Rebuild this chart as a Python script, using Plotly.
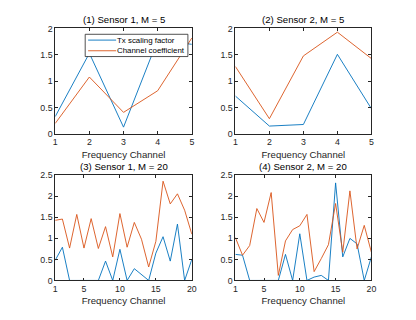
import plotly.graph_objs as go
from plotly.subplots import make_subplots

# channels
ch5 = [1, 2, 3, 4, 5]
ch20 = list(range(1, 21))

# (1) Sensor 1, M = 5
tx1_m5 = [0.33, 1.53, 0.13, 1.78, 1.70]
cc1_m5 = [0.20, 1.08, 0.41, 0.82, 1.82]
# (2) Sensor 2, M = 5
tx2_m5 = [0.72, 0.15, 0.18, 1.51, 0.48]
cc2_m5 = [1.28, 0.29, 1.48, 1.93, 1.43]
# (3) Sensor 1, M = 20
tx1_m20 = [0.48, 0.79, 0, 0, 0, 0, 0, 0.46, 0, 0.74,
           0, 0.28, 0.13, 0, 0.65, 1.04, 0.46, 1.34, 0, 0.50]
cc1_m20 = [1.43, 1.46, 0.77, 1.57, 0.77, 1.47, 0.76, 1.28, 0.56, 1.59,
           0.79, 1.38, 0.98, 0.32, 0.93, 2.36, 1.82, 2.06, 1.67, 1.10]
# (4) Sensor 2, M = 20
tx2_m20 = [0.62, 0.60, 0, 0, 0, 0, 0, 0.62, 0, 1.11,
           0, 0.08, 0.12, 0, 2.32, 0.56, 1.00, 0.87, 0, 0.56]
cc2_m20 = [1.02, 0.60, 0.83, 1.71, 1.38, 2.09, 0.12, 0.94, 1.21, 1.30,
           1.57, 0.21, 0.52, 0.85, 1.83, 0.67, 2.13, 0.75, 1.31, 0.67]

titles = ["(1) Sensor 1, M = 5", "(2) Sensor 2, M = 5",
          "(3) Sensor 1, M = 20", "(4) Sensor 2, M = 20"]
series_names = ["Tx scaling factor", "Channel coefficient"]

blue = "#0072BD"
orange = "#D95319"
ink = "#262626"
font = "Liberation Sans, Arial, sans-serif"

# the page body has an 8px margin, so the figure is drawn 8px in and down
W, H = 408, 312

fig = make_subplots(rows=2, cols=2)

panels = [(ch5, tx1_m5, cc1_m5, 1, 1), (ch5, tx2_m5, cc2_m5, 1, 2),
          (ch20, tx1_m20, cc1_m20, 2, 1), (ch20, tx2_m20, cc2_m20, 2, 2)]
for i, (x, tx, cc, r, c) in enumerate(panels):
    fig.add_trace(go.Scatter(x=x, y=tx, mode="lines", name=series_names[0],
                             line=dict(color=blue, width=0.9)), row=r, col=c)
    fig.add_trace(go.Scatter(x=x, y=cc, mode="lines", name=series_names[1],
                             line=dict(color=orange, width=0.9)), row=r, col=c)

xdom = [[46 / W, 185 / W], [229.3 / W, 367.7 / W]]
ydom = [[1 - 125 / H, 1 - 16 / H], [1 - 276.3 / H, 1 - 167.7 / H]]

axis_style = dict(showline=True, mirror="allticks", linecolor=ink, linewidth=0.8,
                  ticks="inside", ticklen=3, tickcolor=ink, showgrid=False,
                  zeroline=False, tickfont=dict(size=8.8, color=ink, family=font))

for i in range(4):
    r, c = divmod(i, 2)
    n = "" if i == 0 else str(i + 1)
    if r == 0:
        xr, xt = [1, 5], [1, 2, 3, 4, 5]
        yr, yt = [0, 2], [0, 0.5, 1, 1.5, 2]
    else:
        xr, xt = [1, 20], [1, 5, 10, 15, 20]
        yr, yt = [0, 2.5], [0, 0.5, 1, 1.5, 2, 2.5]
    fig.layout["xaxis" + n].update(domain=xdom[c], range=xr, tickvals=xt,
                                   title=dict(text="Frequency Channel", standoff=4,
                                              font=dict(size=9.6, color=ink, family=font)),
                                   **axis_style)
    fig.layout["yaxis" + n].update(domain=ydom[r], range=yr, tickvals=yt,
                                   ticktext=[("%g" % v) for v in yt], **axis_style)
    fig.add_annotation(text=titles[i], x=sum(xdom[c]) / 2, y=ydom[r][1],
                       xref="paper", yref="paper", xanchor="center", yanchor="bottom",
                       yshift=1.5, showarrow=False,
                       font=dict(size=9.6, color="#000000", family=font))

# compact MATLAB-style legend box in panel (1)
lx0, lx1, ly0, ly1 = 76.5 / W, 181 / W, 1 - 45 / H, 1 - 22 / H
fig.add_shape(type="rect", xref="paper", yref="paper", x0=lx0, x1=lx1, y0=ly0, y1=ly1,
              fillcolor="white", line=dict(color=ink, width=0.8), layer="above")
for k, (nm, col) in enumerate(zip(series_names, [blue, orange])):
    yy = 1 - (28 + 11 * k) / H
    fig.add_shape(type="line", xref="paper", yref="paper", x0=79.5 / W, x1=108 / W,
                  y0=yy, y1=yy, line=dict(color=col, width=0.9), layer="above")
    fig.add_annotation(text=nm, xref="paper", yref="paper", x=109 / W, y=yy,
                       xanchor="left", yanchor="middle", showarrow=False,
                       borderpad=0, borderwidth=0,
                       font=dict(size=7.9, color="#000000", family=font))

fig.update_layout(
    width=W, height=H, margin=dict(l=0, r=0, t=0, b=0),
    paper_bgcolor="white", plot_bgcolor="white",
    font=dict(family=font, color=ink),
    showlegend=False,
)

fig.write_html("out.html")
